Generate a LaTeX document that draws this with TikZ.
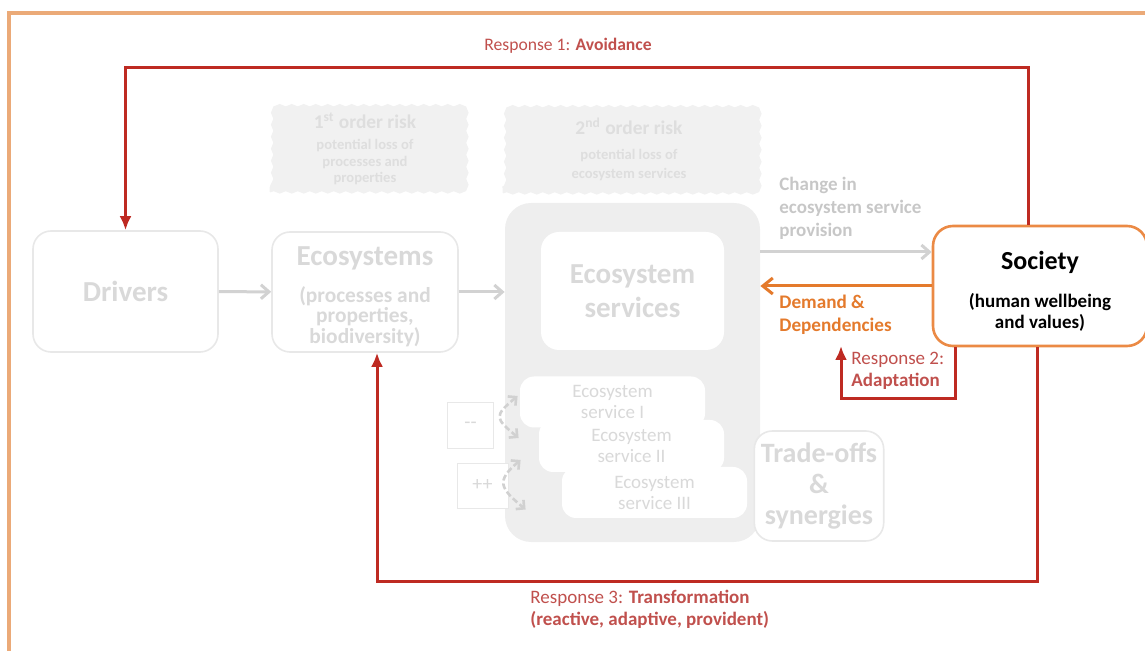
\documentclass[tikz,border=0pt]{standalone}
\usepackage{fontspec}
\setmainfont{Carlito}
\usepackage{tikz}
\usetikzlibrary{
  arrows.meta,
  positioning,
  decorations.pathmorphing
}
\definecolor{esRed}{HTML}{BE2A22}
\definecolor{esRedText}{HTML}{C0504D}
\definecolor{esOrange}{HTML}{EB8A45}
\definecolor{esDemand}{HTML}{E47A2C}
\definecolor{esFrame}{HTML}{EBAA78}
\definecolor{esFade}{HTML}{D9D9D9}
\definecolor{esArrow}{HTML}{D2D2D2}
\definecolor{esLine}{HTML}{E8E8E8}
\definecolor{esCloud}{HTML}{F1F1F1}
\definecolor{esGroup}{HTML}{EEEEEE}
\newcommand{\esbig}{\fontsize{14.5}{17}\selectfont\bfseries}
\newcommand{\essub}{\fontsize{10.7}{10.25}\selectfont\bfseries}
\newcommand{\esrisk}{\fontsize{9.7}{11}\selectfont\bfseries}
\tikzset{
  esnode/.style={
    draw=esLine, fill=white, rounded corners=9pt, align=center, text=esFade, thick
  },
  bigbox/.style={esnode, font=\esbig},
  subbox/.style={esnode, font=\essub},
  servbox/.style={draw=none, fill=white, rounded corners=7pt, align=center, text=esFade,
    font=\fontsize{9.5}{10.5}\selectfont, minimum width=92.5pt, minimum height=25.5pt},
  signbox/.style={draw=esLine, fill=white, text=esFade, font=\fontsize{10}{11}\selectfont,
    minimum width=23pt, minimum height=23pt},
  group/.style={fill=esGroup, rounded corners=13pt},
  risk/.style={
    draw=esCloud, fill=esCloud, align=center, text=black!13,
    decorate, decoration={snake, segment length=6pt, amplitude=0.6pt}
  },
  society/.style={
    draw=esOrange, fill=white, rounded corners=10pt, line width=1.3pt, align=center,
    text=black, font=\fontsize{9.5}{10.5}\selectfont\bfseries, inner ysep=0pt,
    minimum width=107pt, minimum height=60pt
  },
  graytag/.style={font=\fontsize{9.5}{11.5}\selectfont\bfseries, text=black!22, align=left},
  demandtag/.style={font=\fontsize{9.6}{11.5}\selectfont\bfseries, text=esDemand, align=left},
  resptext/.style={font=\fontsize{9.5}{10.8}\selectfont, text=esRedText, align=left},
  flow/.style={-{Straight Barb[length=4pt, width=7pt]}, line width=1.5pt, esArrow},
  demand/.style={-{Straight Barb[length=5pt, width=8pt]}, line width=1.5pt, esDemand},
  response/.style={-{Latex[length=7pt, width=6pt]}, line width=1.5pt, esRed},
  linkage/.style={{Straight Barb[length=3pt, width=6pt]}-{Straight Barb[length=3pt, width=6pt]},
    dash pattern=on 3pt off 1.5pt, line width=1.3pt, black!18},
  frame/.style={line width=1.6pt, esFrame}
}

\begin{document}
\begin{tikzpicture}[x=0.5pt, y=-0.5pt]
  \useasboundingbox (0,0) rectangle (1145,651);
  \draw[frame] (9,651) -- (9,13) -- (1145,13);

  % risk clouds
  \node[risk, font=\fontsize{7.3}{8.3}\selectfont\bfseries, minimum width=95pt, minimum height=43pt] (risk1) at (365,149)
    {{\esrisk 1\textsuperscript{st} order risk}\\[2pt]potential loss of\\processes and\\properties};
  \node[risk, font=\fontsize{7.3}{9.5}\selectfont\bfseries, minimum width=126pt, minimum height=43.5pt] (risk2) at (629,149.5)
    {{\esrisk 2\textsuperscript{nd} order risk}\\[3pt]potential loss of\\ecosystem services};

  % main chain
  \node[bigbox, minimum width=92.5pt, minimum height=60.5pt] (drv) at (125.5,291.5) {Drivers};
  \node[subbox, inner ysep=0pt, minimum width=93pt, minimum height=60pt] (eco) at (365,292)
    {\rule{0pt}{14pt}{\esbig Ecosystems}\\[8.25pt](processes and\\properties,\\biodiversity)};
  \node[group, minimum width=127.5pt, minimum height=169.5pt] (esg) at (632.5,372.5) {};
  \node[bigbox, draw=none, minimum width=91.5pt, minimum height=59pt] (es) at (632.5,291)
    {Ecosystem\\services};
  \node[servbox] (es1) at (612.5,402) {Ecosystem\\service I};
  \node[servbox, minimum height=26pt] (es2) at (631.5,446) {Ecosystem\\service II};
  \node[servbox] (es3) at (654.5,492.5) {Ecosystem\\service III};
  \node[signbox] (minus) at (470.5,425) {-{}-};
  \node[signbox, minimum width=25.5pt, minimum height=22.5pt] (plus) at (482.5,485.5) {++};
  \node[bigbox, font=\fontsize{14}{15.5}\selectfont\bfseries, minimum width=64pt, minimum height=55pt] (trade) at (819,486)
    {Trade-offs\\\&\\synergies};
  \node[society] (soc) at (1040,286)
    {\rule{0pt}{14.4pt}{\fontsize{13}{14}\selectfont Society}\\[8.5pt](human wellbeing\\and values)};

  \node[graytag, anchor=north west, inner sep=0pt] (chg) at (779,177)
    {Change in\\ecosystem service\\provision};
  \node[demandtag, anchor=north west, inner sep=0pt] (dem) at (779,295) {Demand \&\\Dependencies};

  \draw[flow] (drv) -- (eco);
  \draw[flow] (eco.east) -- (eco.east -| esg.west);
  \coordinate (sup) at ([yshift=17pt]soc.west);
  \draw[flow] (sup -| esg.east) -- (sup);
  \draw[demand] (soc.west) -- (soc.west -| esg.east);
  \draw[linkage] ([xshift=-1pt, yshift=3pt]es1.west) to[out=220, in=140, looseness=1.9] ([xshift=-10pt, yshift=4pt]es2.west);
  \draw[linkage] ([xshift=-9pt, yshift=-7pt]es2.west) to[out=220, in=140, looseness=1.7] ([xshift=-18pt, yshift=-8.5pt]es3.west);

  % responses
  \node[resptext, font=\fontsize{8.8}{10.8}\selectfont] (r1) at (568,46) {Response 1: \textbf{Avoidance}};
  \draw[response] ([xshift=-6pt]soc.north) -- ++(0,-157) -| (drv.north);
  \coordinate (a2) at (841,346);
  \draw[response] ([xshift=-42.5pt]soc.south) -- ++(0,51) -| (a2);
  \node[resptext, anchor=north west, inner sep=0pt] (r2) at (851,352) {Response 2:\\\textbf{Adaptation}};
  \draw[response] ([xshift=-1.5pt]soc.south) -- ++(0,234) -| ([xshift=6pt]eco.south);
  \node[resptext, anchor=north west, inner sep=0pt] (r3) at (530,590)
    {Response 3: \textbf{Transformation}\\\textbf{(reactive, adaptive, provident)}};
\end{tikzpicture}
\end{document}
